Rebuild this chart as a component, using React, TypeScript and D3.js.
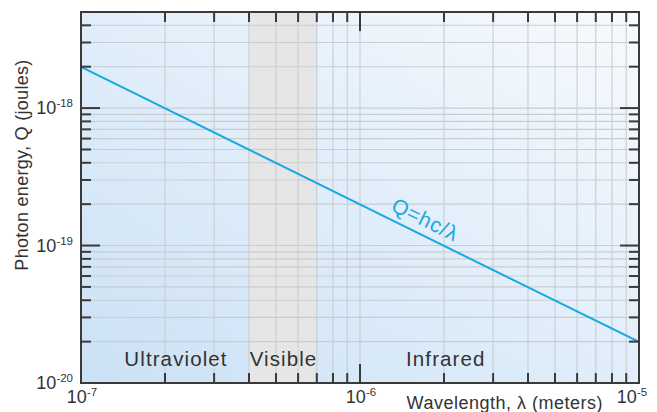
import React from "react";
import * as d3 from "d3";

// Axis extents (log scales)
const wavelengthDomain: [number, number] = [1e-7, 1e-5];
const energyDomain: [number, number] = [1e-20, 5e-18];

// Spectral bands along the wavelength axis
const bandNames = ["Ultraviolet", "Visible", "Infrared"];
const bandStarts = [1e-7, 4e-7, 7e-7];
const bandEnds = [4e-7, 7e-7, 1e-5];
const bandLabelAt = [2.19e-7, 5.32e-7, 2.03e-6];

// Photon energy line Q = hc/λ, sampled at the ends of the axis
const lineWavelengths = [1e-7, 1e-5];
const lineEnergies = [1.99e-18, 1.99e-20];

// Major tick labels
const xMajorTicks = [1e-7, 1e-6, 1e-5];
const xMajorExponents = ["-7", "-6", "-5"];
const yMajorTicks = [1e-20, 1e-19, 1e-18];
const yMajorExponents = ["-20", "-19", "-18"];

const W = 657;
const H = 412;
const M = { left: 81, right: 639, top: 12, bottom: 383 };

const FONT = "'Liberation Sans', Arial, Helvetica, sans-serif";
const INK = "#333333";
const BLUE = "#1aa8e2";

function logTicks(lo: number, hi: number): number[] {
  const out: number[] = [];
  const e0 = Math.floor(Math.log10(lo));
  const e1 = Math.ceil(Math.log10(hi));
  for (let e = e0; e <= e1; e++) {
    for (let m = 1; m <= 9; m++) {
      const v = m * Math.pow(10, e);
      if (v >= lo * 0.9999 && v <= hi * 1.0001) out.push(v);
    }
  }
  return out;
}

function isMajor(v: number): boolean {
  const l = Math.log10(v);
  return Math.abs(l - Math.round(l)) < 1e-6;
}

export default function App() {
  const x = d3.scaleLog().domain(wavelengthDomain).range([M.left, M.right]);
  const y = d3.scaleLog().domain(energyDomain).range([M.bottom, M.top]);

  const xTicks = logTicks(wavelengthDomain[0], wavelengthDomain[1]);
  const yTicks = logTicks(energyDomain[0], energyDomain[1]);

  const line = d3
    .line<number>()
    .x((_, i) => x(lineWavelengths[i]))
    .y((d) => y(d));

  const minorLen = 10;
  const majorLen = 19;

  // Equation label placed along the line
  const labelLambda = 1.67e-6;
  const lx = x(labelLambda);
  const ly = y(lineEnergies[0] * (lineWavelengths[0] / labelLambda)) - 9;
  const dxLine = x(lineWavelengths[1]) - x(lineWavelengths[0]);
  const dyLine = y(lineEnergies[1]) - y(lineEnergies[0]);
  const angle = (Math.atan2(dyLine, dxLine) * 180) / Math.PI;

  return (
    <svg
      width={W}
      height={H}
      viewBox={`0 0 ${W} ${H}`}
      style={{ position: "absolute", left: 0, top: 0, background: "#ffffff" }}
      fontFamily={FONT}
    >
      <defs>
        <linearGradient id="bg" x1="0" y1="1" x2="1" y2="0">
          <stop offset="0" stopColor="#cbe1f5" />
          <stop offset="0.5" stopColor="#e1eefa" />
          <stop offset="1" stopColor="#f7fafd" />
        </linearGradient>
        <clipPath id="plot">
          <rect x={M.left} y={M.top} width={M.right - M.left} height={M.bottom - M.top} />
        </clipPath>
      </defs>

      <rect
        x={M.left}
        y={M.top}
        width={M.right - M.left}
        height={M.bottom - M.top}
        fill="url(#bg)"
      />

      {/* visible band */}
      <rect
        x={x(bandStarts[1])}
        y={M.top}
        width={x(bandEnds[1]) - x(bandStarts[1])}
        height={M.bottom - M.top}
        fill="#e6e6e7"
      />

      {/* grid */}
      <g stroke="#c9cdd1" strokeWidth={1.1}>
        {xTicks.map((t, i) => (
          <line key={"gx" + i} x1={x(t)} x2={x(t)} y1={M.top} y2={M.bottom} />
        ))}
        {yTicks.map((t, i) => (
          <line key={"gy" + i} x1={M.left} x2={M.right} y1={y(t)} y2={y(t)} />
        ))}
      </g>

      {/* band labels */}
      <g fill={INK} fontSize={20.5} letterSpacing={1.1}>
        {bandNames.map((name, i) => (
          <text key={name} x={x(bandLabelAt[i])} y={366} textAnchor="middle">
            {name}
          </text>
        ))}
      </g>

      {/* Q = hc/λ */}
      <path
        d={line(lineEnergies) || ""}
        fill="none"
        stroke={BLUE}
        strokeWidth={2}
        clipPath="url(#plot)"
      />
      <text
        x={lx}
        y={ly}
        fill={BLUE}
        fontSize={21}
        letterSpacing={0.8}
        textAnchor="middle"
        transform={`rotate(${angle} ${lx} ${ly})`}
      >
        Q=hc/λ
      </text>

      {/* ticks on all four sides, pointing inward */}
      <g stroke="#3a3a3a" strokeWidth={2}>
        {xTicks.map((t, i) => {
          const len = isMajor(t) ? majorLen : minorLen;
          return (
            <g key={"tx" + i}>
              <line x1={x(t)} x2={x(t)} y1={M.bottom} y2={M.bottom - len} />
              <line x1={x(t)} x2={x(t)} y1={M.top} y2={M.top + len} />
            </g>
          );
        })}
        {yTicks.map((t, i) => {
          const len = isMajor(t) ? majorLen : minorLen;
          return (
            <g key={"ty" + i}>
              <line x1={M.left} x2={M.left + len} y1={y(t)} y2={y(t)} />
              <line x1={M.right} x2={M.right - len} y1={y(t)} y2={y(t)} />
            </g>
          );
        })}
      </g>

      {/* frame */}
      <rect
        x={M.left}
        y={M.top}
        width={M.right - M.left}
        height={M.bottom - M.top}
        fill="none"
        stroke="#3a3a3a"
        strokeWidth={2}
      />

      {/* x tick labels */}
      <g fill={INK}>
        {xMajorTicks.map((t, i) => (
          <text
            key={"xl" + i}
            x={x(t) + (i === xMajorTicks.length - 1 ? -7 : 1)}
            y={403}
            textAnchor="middle"
            fontSize={18}
          >
            10
            <tspan fontSize={11.5} dy={-7}>
              {xMajorExponents[i]}
            </tspan>
          </text>
        ))}
      </g>

      {/* y tick labels */}
      <g fill={INK}>
        {yMajorTicks.map((t, i) => (
          <text key={"yl" + i} x={73} y={y(t) + 6} textAnchor="end" fontSize={18}>
            10
            <tspan fontSize={11.5} dy={-7}>
              {yMajorExponents[i]}
            </tspan>
          </text>
        ))}
      </g>

      {/* axis titles */}
      <text x={603} y={409} textAnchor="end" fontSize={18} letterSpacing={0.5} fill={INK}>
        Wavelength, λ (meters)
      </text>
      <text
        x={0}
        y={0}
        fontSize={18}
        letterSpacing={0.3}
        fill={INK}
        textAnchor="middle"
        transform={`translate(28 ${165}) rotate(-90)`}
      >
        Photon energy, Q (joules)
      </text>
    </svg>
  );
}
